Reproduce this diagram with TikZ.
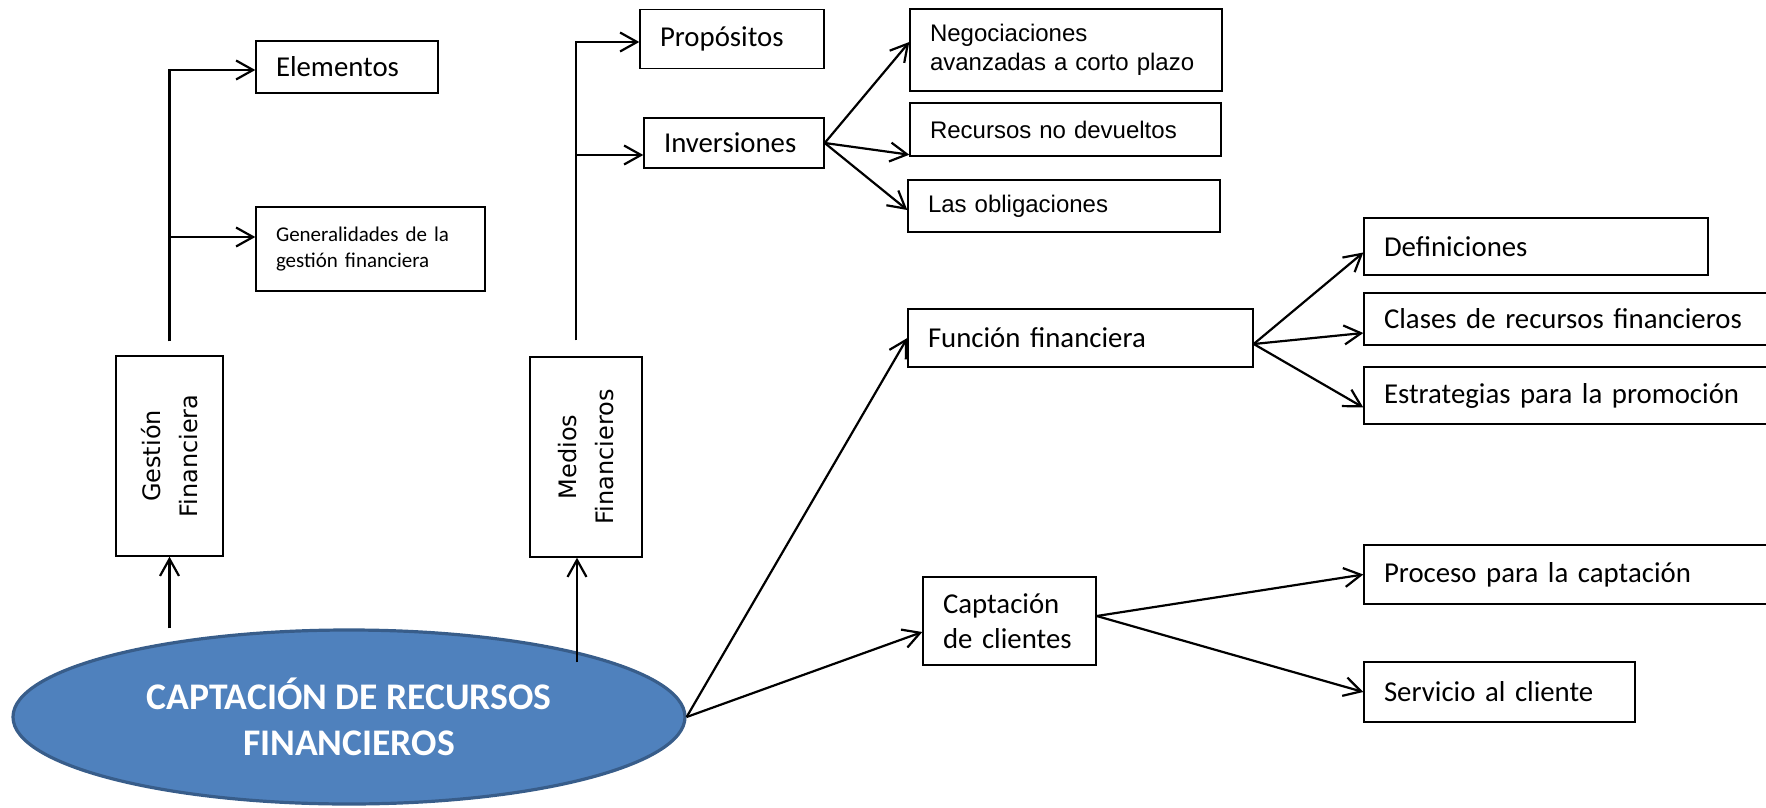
\documentclass[tikz,border=0pt]{standalone}
\usepackage{fontspec}
\setmainfont{Carlito}
\newfontfamily\arialfont{Liberation Sans}
\newfontfamily\dejavufont{DejaVu Sans}
\usetikzlibrary{arrows.meta,shapes.geometric}
\definecolor{elipsefill}{HTML}{4F81BD}
\definecolor{elipseline}{HTML}{385D8A}
\tikzset{
  caja/.style={draw, line width=0.7pt, rectangle, align=left, inner xsep=10pt, inner ysep=2pt, font=\fontsize{14.4}{17.5}\selectfont},
  cajav/.style={draw, line width=0.7pt, rectangle, rotate=90, align=center, inner sep=0pt, font=\dejavufont\fontsize{12}{18.5}\selectfont},
  arial/.style={font=\arialfont\fontsize{12}{14.5}\selectfont},
  flecha/.style={line width=1.1pt, -{Straight Barb[length=8.5pt,width=9.5pt]}},
}
\begin{document}
\begin{tikzpicture}[x=0.5pt, y=-0.5pt]
	\useasboundingbox (0,0) rectangle (1766,808);
	% left branch
	\node[caja, text width=71pt, minimum height=26pt] (elem) at (347,67) {Elementos};
	\node[caja, text width=94.5pt, minimum height=42pt, font=\fontsize{10.5}{13}\selectfont] (gener) at (370.5,249) {Generalidades de la\\gestión financiera};
	\node[cajav, minimum width=100pt, minimum height=53.5pt] (gest) at (169.5,456) {Gestión\\Financiera};
	% middle branch
	\node[caja, text width=72pt, minimum height=29.5pt] (prop) at (732,39) {Propósitos};
	\node[caja, text width=70pt, minimum height=25pt] (inv) at (734,143) {Inversiones};
	\node[caja, arial, text width=136pt, minimum height=41pt] (neg) at (1066,50) {Negociaciones\\avanzadas a corto plazo};
	\node[caja, arial, text width=135.5pt, minimum height=26.5pt] (rec) at (1065.5,129.5) {Recursos no devueltos};
	\node[caja, arial, text width=136pt, minimum height=26pt] (obl) at (1064,206) {Las obligaciones};
	\node[cajav, minimum width=100pt, minimum height=56pt] (med) at (586,457) {Medios\\Financieros};
	% main ellipse
	\node[ellipse, draw=elipseline, line width=1.6pt, fill=elipsefill, minimum width=336pt, minimum height=87pt, inner sep=0pt, text=white, align=center, font=\bfseries\fontsize{18.8}{23}\selectfont] (cap) at (349,717) {CAPTACIÓN DE RECURSOS\\FINANCIEROS};
	% right branch
	\node[caja, text width=152.5pt, minimum height=29pt] (fun) at (1080.5,338) {Función financiera};
	\node[caja, text width=66.5pt, minimum height=44pt] (capt) at (1009.5,621) {Captación\\de clientes};
	\node[caja, text width=152pt, minimum height=28.5pt] (def) at (1536,246.5) {Definiciones};
	\node[caja, text width=190pt, minimum height=26pt] (cla) at (1574,319) {Clases de recursos financieros};
	\node[caja, text width=190pt, minimum height=28.5pt] (est) at (1574,395.5) {Estrategias para la promoción};
	\node[caja, text width=190pt, minimum height=29.5pt] (pro) at (1574,574.5) {Proceso para la captación};
	\node[caja, text width=115.5pt, minimum height=30pt] (ser) at (1499.5,692) {Servicio al cliente};
	% connectors (rotated boxes: east = top, west = bottom)
	\coordinate (ge1) at ([yshift=-1.5pt]elem.west);
	\coordinate (ge2) at ([yshift=6pt]gener.west);
	\draw[flecha] ([yshift=7pt]gest.east) |- (ge1);
	\draw[flecha] (gest.east |- ge2) -- (ge2);
	\coordinate (me1) at ([yshift=-1.5pt]prop.west);
	\coordinate (me2) at ([yshift=-6pt]inv.west);
	\coordinate (mtop) at ([xshift=-5pt,yshift=8pt]med.east);
	\draw[flecha] (mtop) |- (me1);
	\draw[flecha] (mtop |- me2) -- (me2);
	\draw[flecha] (inv.east) -- ([yshift=4pt]neg.west);
	\draw[flecha] (inv.east) -- ([yshift=1pt]rec.south west);
	\draw[flecha] (inv.east) -- ([yshift=-2pt]obl.west);
	\draw[flecha] (gest.west |- cap.north) -- (gest.west);
	\coordinate (mbase) at ([xshift=-4.5pt]med.west);
	\coordinate (mpie) at ([yshift=-17pt]cap.north);
	\draw[flecha] (mbase |- mpie) -- (mbase);
	\draw[flecha] (cap.east) -- (fun.west);
	\draw[flecha] (cap.east) -- ([yshift=-5.5pt]capt.west);
	\draw[flecha] ([yshift=-3pt]fun.east) -- ([yshift=-3pt]def.west);
	\draw[flecha] ([yshift=-3pt]fun.east) -- ([yshift=-7pt]cla.west);
	\draw[flecha] ([yshift=-3pt]fun.east) -- ([yshift=-6pt]est.west);
	\draw[flecha] ([yshift=2.5pt]capt.east) -- (pro.west);
	\draw[flecha] ([yshift=2.5pt]capt.east) -- (ser.west);
\end{tikzpicture}
\end{document}
